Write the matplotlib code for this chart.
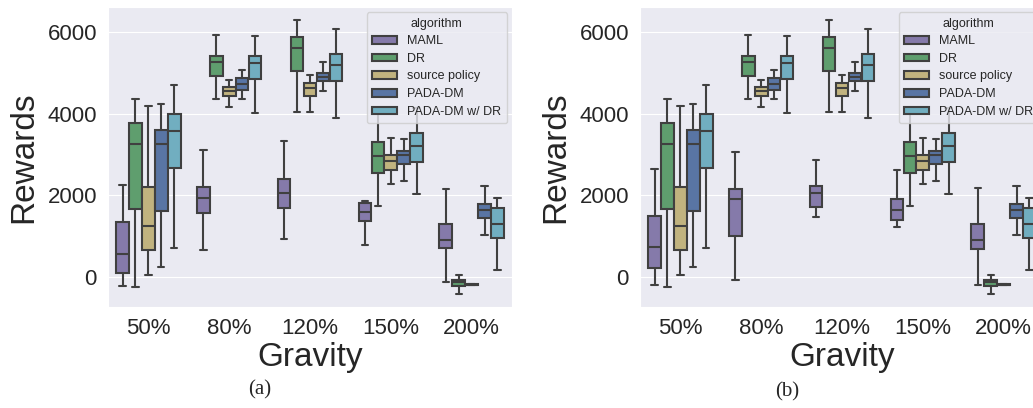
import colorsys
import matplotlib
matplotlib.use('Agg')
import matplotlib.pyplot as plt
import matplotlib.colors as mcolors
from matplotlib.patches import Patch
import seaborn as sns

gravity = ['50%', '80%', '120%', '150%', '200%']
algorithms = ['MAML', 'DR', 'source policy', 'PADA-DM', 'PADA-DM w/ DR']

# (whisker low, q1, median, q3, whisker high) per gravity setting
maml_a = [(-229, 98, 571, 1355, 2245), (669, 1575, 1943, 2196, 3118),
          (939, 1698, 2049, 2400, 3339), (792, 1363, 1600, 1804, 1869),
          (-131, 710, 914, 1298, 2155)]
maml_b = [(-204, 212, 735, 1486, 2637), (-73, 1012, 1910, 2155, 3053),
          (1461, 1706, 2049, 2229, 2873), (1224, 1388, 1633, 1902, 2628),
          (-196, 694, 914, 1298, 2188)]
dr = [(-245, 1665, 3265, 3771, 4375), (4359, 4931, 5265, 5420, 5943),
      (4041, 5061, 5608, 5894, 6302), (1731, 2547, 2963, 3306, 4150),
      (-424, -229, -131, -65, 49)]
source = [(57, 669, 1257, 2212, 4188), (4180, 4433, 4571, 4653, 4832),
          (4041, 4449, 4628, 4759, 4947), (2278, 2628, 2849, 2980, 3420),
          (-200, -195, -188, -180, -172)]
pada = [(245, 1616, 3249, 3600, 4253), (4375, 4588, 4726, 4890, 5077),
        (4555, 4808, 4906, 5012, 5273), (2359, 2775, 2996, 3078, 3380),
        (1029, 1445, 1649, 1788, 2220)]
pada_dr = [(702, 2661, 3592, 4000, 4718), (4024, 4857, 5241, 5420, 5918),
           (3910, 4816, 5192, 5461, 6073), (2024, 2808, 3224, 3543, 4150),
           (163, 963, 1298, 1698, 1927)]

colors = ['#8172B2', '#55A868', '#CCB974', '#4C72B0', '#64B5CD']
line = '.25'


def desat(c, p=0.75):
    h, l, s = colorsys.rgb_to_hls(*mcolors.to_rgb(c))
    return colorsys.hls_to_rgb(h, l, s * p)


sns.set_style('darkgrid')
plt.rcParams['font.family'] = ['Liberation Sans', 'DejaVu Sans']


def draw(ax, maml):
    series = [maml, dr, source, pada, pada_dr]
    w = 0.8 / len(series)
    for i, (vals, c) in enumerate(zip(series, colors)):
        stats = [dict(whislo=v[0], q1=v[1], med=v[2], q3=v[3], whishi=v[4]) for v in vals]
        pos = [g - 0.4 + w * (i + 0.5) for g in range(len(gravity))]
        lp = dict(color=line, linewidth=1.5)
        ax.bxp(stats, positions=pos, widths=w * 0.98, patch_artist=True,
               showfliers=False, manage_ticks=False,
               boxprops=dict(facecolor=desat(c), edgecolor=line, linewidth=1.5),
               whiskerprops=lp, capprops=lp, medianprops=lp)
    ax.set_xlim(-0.5, len(gravity) - 0.5)
    ax.set_ylim(-735, 6620)
    ax.set_xticks(range(len(gravity)))
    ax.set_xticklabels(gravity)
    ax.set_yticks([0, 2000, 4000, 6000])
    ax.tick_params(labelsize=16, length=0, pad=8)
    ax.xaxis.grid(False)
    ax.set_xlabel('Gravity', fontsize=24, labelpad=2)
    ax.set_ylabel('Rewards', fontsize=24, labelpad=6)
    handles = [Patch(facecolor=desat(c), edgecolor=line, linewidth=1.5) for c in colors]
    ax.legend(handles, algorithms, title='algorithm', loc='upper right',
              fontsize=9, title_fontsize=9, frameon=True,
              labelspacing=0.45, handlelength=2.0, handleheight=0.56,
              handletextpad=0.8, borderpad=0.45, borderaxespad=0.4,
              facecolor='#EAEAF2', edgecolor='0.8', framealpha=0.8)


fig = plt.figure(figsize=(10.33, 4.08), dpi=100)
ax1 = fig.add_axes([108 / 1033, 101 / 408, 404 / 1033, 300 / 408])
ax2 = fig.add_axes([640 / 1033, 101 / 408, 404 / 1033, 300 / 408])
draw(ax1, maml_a)
draw(ax2, maml_b)

fig.text(260 / 1033, 1 - 390 / 408, '(a)', ha='center', va='center',
         fontsize=15, family='Liberation Serif')
fig.text(787 / 1033, 1 - 392 / 408, '(b)', ha='center', va='center',
         fontsize=15, family='Liberation Serif')

fig.savefig('out.png', dpi=100)
